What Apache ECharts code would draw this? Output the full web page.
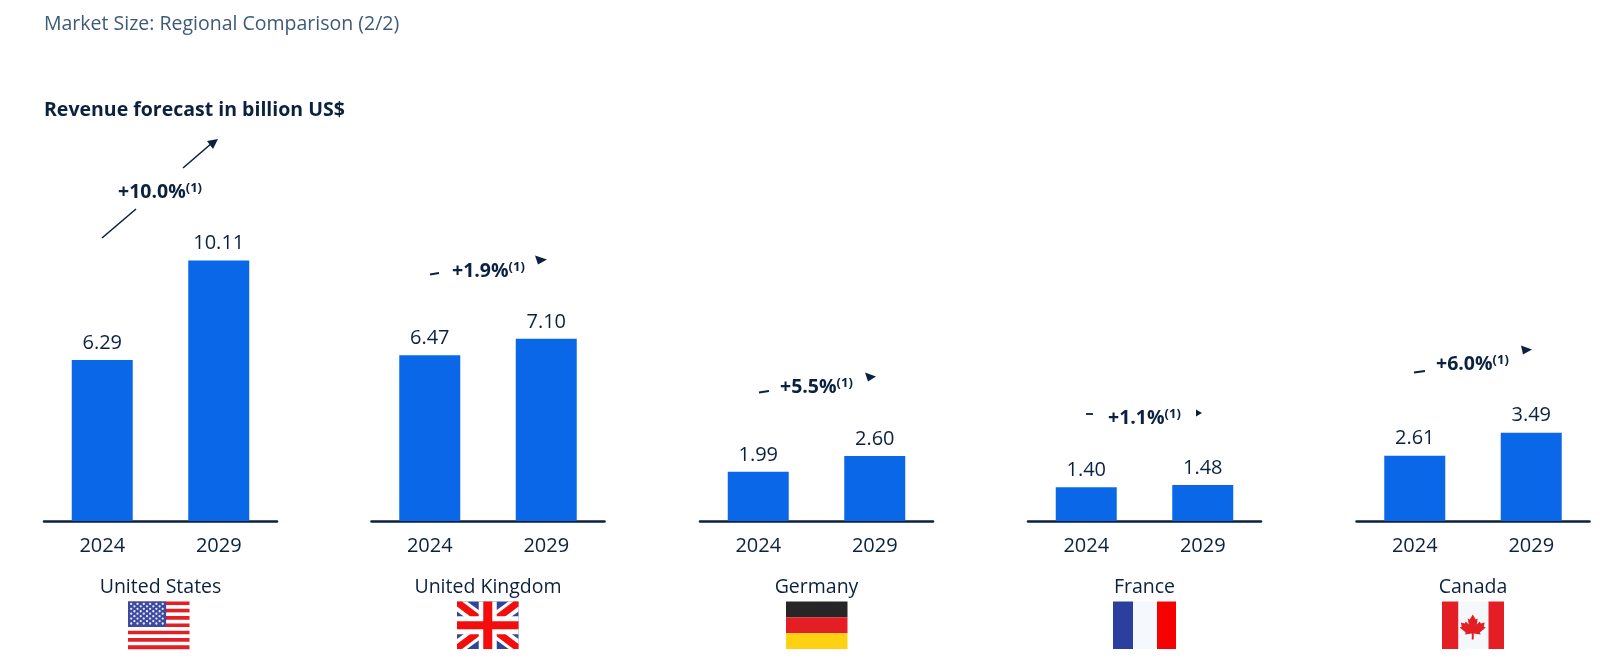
<!DOCTYPE html>
<html><head><meta charset="utf-8">
<style>html,body{margin:0;padding:0;background:#fff}#c{width:1600px;height:660px}</style>
<script src="https://cdn.jsdelivr.net/npm/echarts@6/dist/echarts.min.js"></script>
</head><body><div id="c"></div>
<script>
const years = ['2024','2029'];
const countries = ['United States','United Kingdom','Germany','France','Canada'];
const usValues = [6.29,10.11];
const ukValues = [6.47,7.10];
const deValues = [1.99,2.60];
const frValues = [1.40,1.48];
const caValues = [2.61,3.49];
const growthLabels = ['+10.0%','+1.9%','+5.5%','+1.1%','+6.0%'];
const allValues = [usValues,ukValues,deValues,frValues,caValues];

const NAVY='#0b2140', BLUE='#0a68e8', FONT='"Open Sans"';
const gridLeft=[44,371.5,700,1028,1356.5], gridW=233, gridTop=100, gridH=421, yMin=0.1, yMax=16.28;

const grid=[],xAxis=[],yAxis=[],series=[];
allValues.forEach((vals,i)=>{
  grid.push({left:gridLeft[i],top:gridTop,width:gridW,height:gridH});
  xAxis.push({type:'category',gridIndex:i,data:years,
    axisLine:{lineStyle:{color:NAVY,width:2.5}},axisTick:{show:false},
    axisLabel:{color:NAVY,fontFamily:FONT,fontSize:20,margin:15},
    name:countries[i],nameLocation:'middle',nameGap:56,
    nameTextStyle:{color:NAVY,fontFamily:FONT,fontSize:19.5}});
  yAxis.push({type:'value',gridIndex:i,min:yMin,max:yMax,show:false});
  series.push({type:'bar',xAxisIndex:i,yAxisIndex:i,data:vals,barWidth:61,silent:true,
    itemStyle:{color:BLUE},
    label:{show:true,position:'top',distance:7,color:NAVY,fontFamily:FONT,fontSize:20,
      formatter:p=>p.value.toFixed(2)}});
});

const g=[];
const text=(x,y,t,size,weight,color)=>g.push({type:'text',x,y,silent:true,style:{text:t,fontFamily:FONT,fontSize:size,fontWeight:weight,fill:color,verticalAlign:'middle'}});
const rect=(x,y,w,h,fill)=>g.push({type:'rect',silent:true,shape:{x,y,width:w,height:h},style:{fill}});
const poly=(pts,fill)=>g.push({type:'polygon',silent:true,shape:{points:pts},style:{fill}});
const line=(x1,y1,x2,y2,w,color)=>g.push({type:'line',silent:true,shape:{x1,y1,x2,y2},style:{stroke:color,lineWidth:w}});

text(44,24.5,'Market Size: Regional Comparison (2/2)',19.5,400,'#3d5a78');
text(44,110.5,'Revenue forecast in billion US$',19.5,700,NAVY);

// growth annotations
const growthPos=[[118,192.5],[452,271.5],[780,387.5],[1108,418.5],[1436,364.5]];
growthLabels.forEach((t,i)=>{
  g.push({type:'text',x:growthPos[i][0],y:growthPos[i][1],silent:true,style:{
    text:'{a|'+t+'}{b|(1)}',verticalAlign:'middle',
    rich:{a:{fontFamily:FONT,fontSize:19.5,fontWeight:700,fill:NAVY},
          b:{fontFamily:FONT,fontSize:13,fontWeight:700,fill:NAVY,verticalAlign:'top',padding:[0,0,8,0]}}}});
});
line(102,238,136,209,1.6,NAVY);
line(183,168,212,143,1.6,NAVY);
poly([[218,139],[207,141],[213,149]],NAVY);
line(430,274.5,439,273,1.8,NAVY);
poly([[535,255.5],[547,259.5],[538,264.5]],NAVY);
line(759,392.5,769,391,1.8,NAVY);
poly([[865,372.5],[876,376.5],[868,381.5]],NAVY);
line(1086,414,1093,414,1.8,NAVY);
poly([[1196,409.5],[1202,413],[1196,416.5]],NAVY);
line(1414,372.5,1425,371,1.8,NAVY);
poly([[1521,345.5],[1532,349.5],[1523,354.5]],NAVY);

// flags
const fy=601.5, fh=47.5, fw=61.5;
const fx=[128,457,786,1113,1442];
// US
for(let s=0;s<13;s++) rect(fx[0],fy+s*fh/13,fw,fh/13+0.2,s%2?'#ffffff':'#e31e24');
rect(fx[0],fy,fw*0.62,fh*7/13,'#3c4ba0');
for(let r=0;r<9;r++){const n=r%2?5:6;for(let c=0;c<n;c++){
  g.push({type:'circle',silent:true,shape:{cx:fx[0]+(r%2?6.4:3.2)+c*6.3,cy:fy+2.4+r*2.45,r:1.15},style:{fill:'#e8ecf8'}});}}
// UK
{const x=fx[1],y=fy,w=fw,h=fh;
 rect(x,y,w,h,'#2f4799');
 const d=10;
 poly([[x,y],[x+d,y],[x+w,y+h-d],[x+w,y+h],[x+w-d,y+h],[x,y+d]],'#fff');
 poly([[x+w,y],[x+w,y+d],[x+d,y+h],[x,y+h],[x,y+h-d],[x+w-d,y]],'#fff');
 const e=5;
 poly([[x,y],[x+e,y],[x+w,y+h-e],[x+w,y+h],[x+w-e,y+h],[x,y+e]],'#f40d0d');
 poly([[x+w,y],[x+w,y+e],[x+e,y+h],[x,y+h],[x,y+h-e],[x+w-e,y]],'#f40d0d');
 rect(x+w/2-9,y,18,h,'#fff'); rect(x,y+h/2-9,w,18,'#fff');
 rect(x+w/2-4.5,y,9,h,'#f40d0d'); rect(x,y+h/2-4,w,8,'#f40d0d');
}
// Germany
rect(fx[2],fy,fw,fh/3,'#262626');rect(fx[2],fy+fh/3,fw,fh/3,'#e31e24');rect(fx[2],fy+2*fh/3,fw,fh/3,'#ffd113');
// France
rect(fx[3],fy,20,fh,'#2c3f9e');rect(fx[3]+20,fy,24,fh,'#f5f9fd');rect(fx[3]+44,fy,19,fh,'#f60000');
// Canada
{const x=fx[4],w=fw;
 rect(x,fy,16.5,fh,'#e31e24');rect(x+16.5,fy,30,fh,'#f5f8fb');rect(x+46.5,fy,15.5,fh,'#e31e24');
 const cx=x+w/2, cy=fy+26;
 const leaf=[[0,-13],[3,-8],[5,-9],[4,-3],[7,-6],[8,-4],[12,-5],[11,-1],[13,0],[7,5],[8,7],[1,6],[1,12],[-1,12],[-1,6],[-8,7],[-7,5],[-13,0],[-11,-1],[-12,-5],[-8,-4],[-7,-6],[-4,-3],[-5,-9],[-3,-8]];
 poly(leaf.map(p=>[cx+p[0],cy+p[1]]),'#e31e24');
}

const chart=echarts.init(document.getElementById('c'),null,{renderer:'canvas'});
chart.setOption({animation:false,backgroundColor:'#fff',grid,xAxis,yAxis,series,graphic:{elements:g}});
</script></body></html>
